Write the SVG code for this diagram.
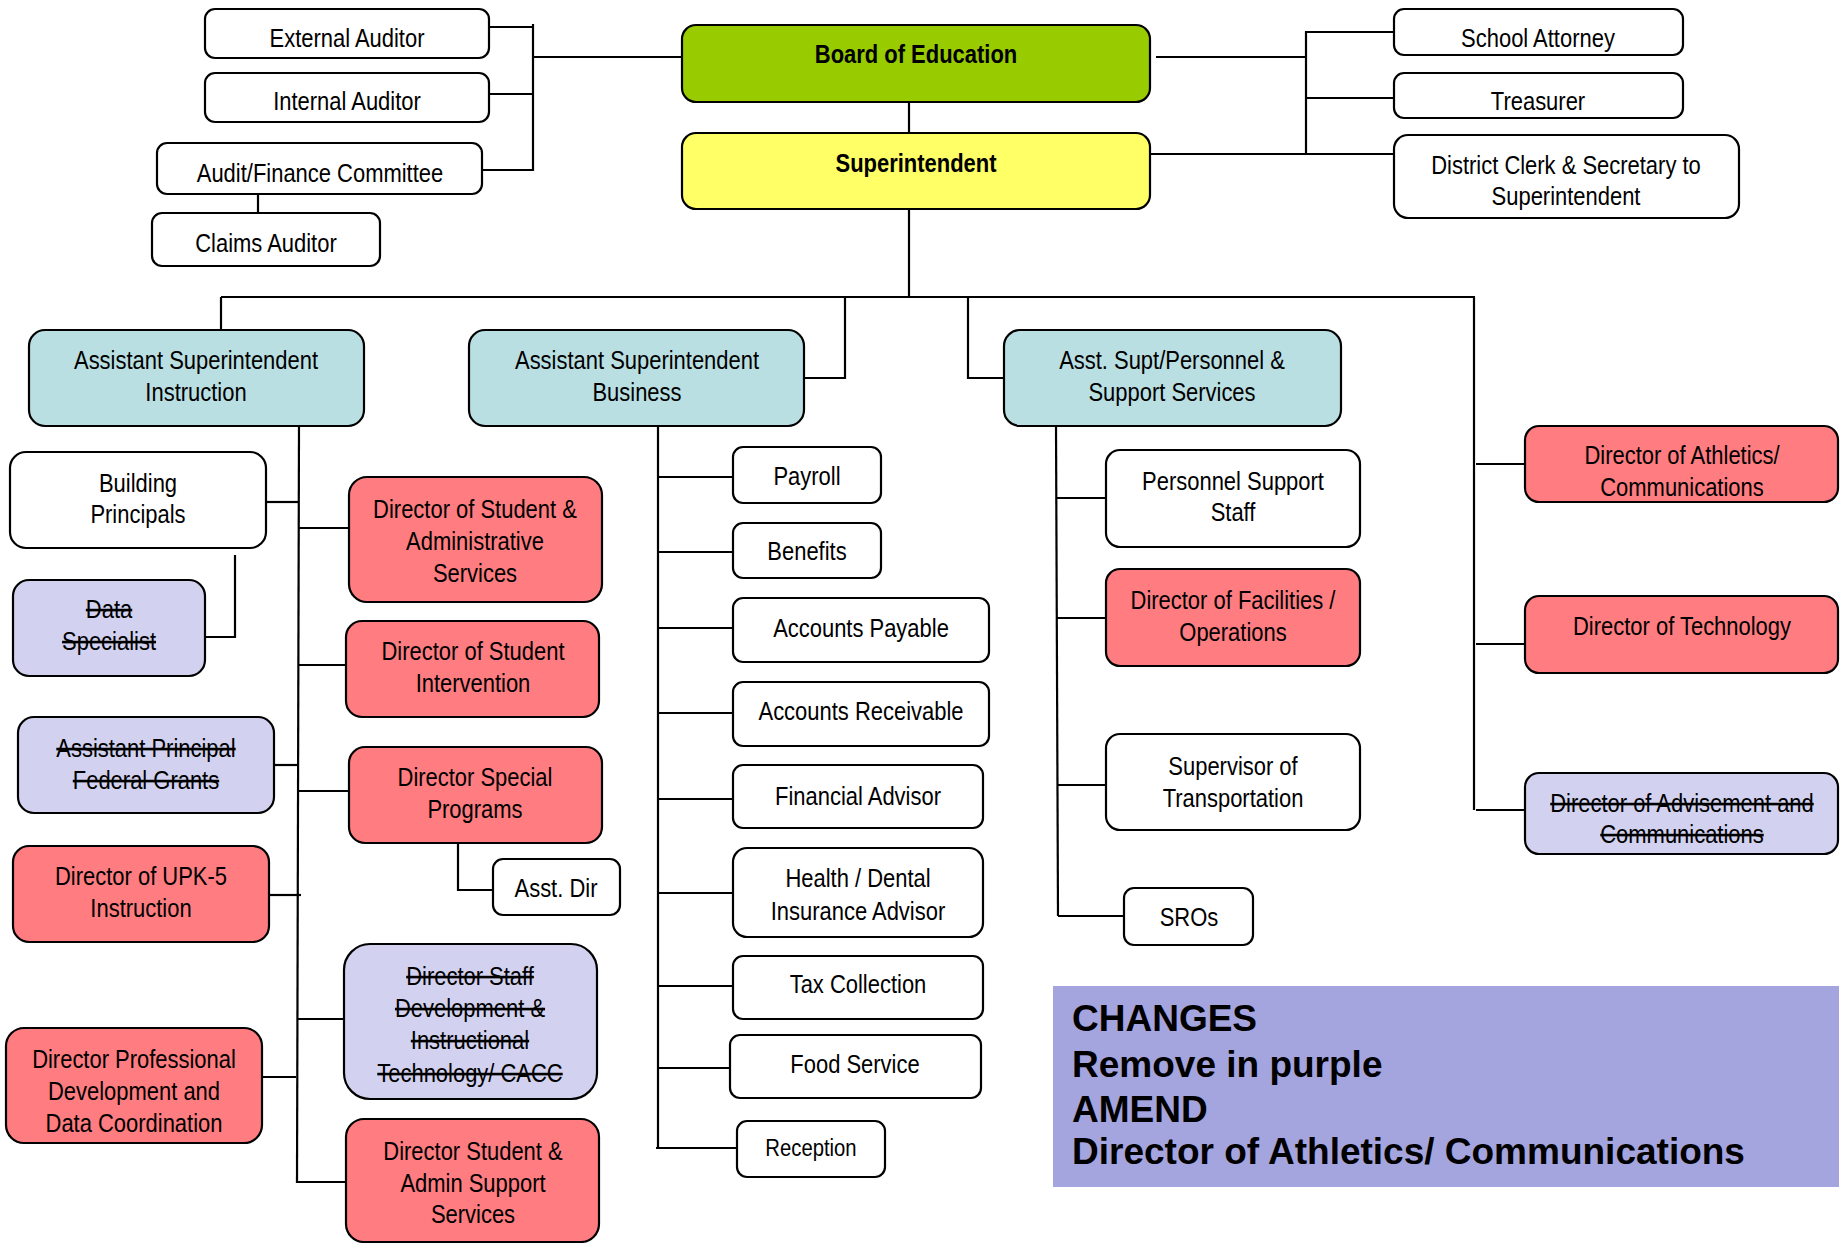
<svg xmlns="http://www.w3.org/2000/svg" width="1847" height="1243" viewBox="0 0 1847 1243">
<style>
.b{stroke:#000;stroke-width:2.2}
.w{fill:#fff}
.g{fill:#99CC00}
.y{fill:#FFFF66}
.t{fill:#B9DFE2}
.r{fill:#FF7C80}
.p{fill:#D2D2F0}
text{font-family:"Liberation Sans Narrow","Liberation Sans",Arial,sans-serif;font-size:26px;fill:#000;text-anchor:middle;transform-box:fill-box;transform-origin:center;transform:scaleX(0.845)}
.bd{font-weight:bold}
.s{text-decoration:line-through}
.sm{font-size:24px}
.ch{font-family:"Liberation Sans",Arial,sans-serif;font-weight:bold;font-size:37px;text-anchor:start;transform:none}
#connectors line,#connectors polyline{stroke:#000;stroke-width:2.2;fill:none}
</style>
<rect width="1847" height="1243" fill="#fff"/>
<g id="connectors">
<line x1="533" y1="24" x2="533" y2="171"/>
<line x1="489" y1="27" x2="533" y2="27"/>
<line x1="489" y1="94" x2="533" y2="94"/>
<line x1="482" y1="170" x2="533" y2="170"/>
<line x1="533" y1="57" x2="681" y2="57"/>
<line x1="258" y1="194" x2="258" y2="213"/>
<line x1="1156" y1="57" x2="1306" y2="57"/>
<line x1="1306" y1="31" x2="1306" y2="155"/>
<line x1="1306" y1="32" x2="1394" y2="32"/>
<line x1="1306" y1="98" x2="1394" y2="98"/>
<line x1="1150" y1="154" x2="1394" y2="154"/>
<line x1="909" y1="102" x2="909" y2="133"/>
<line x1="909" y1="209" x2="909" y2="297"/>
<line x1="221" y1="297" x2="1475" y2="297"/>
<line x1="221" y1="297" x2="221" y2="330"/>
<polyline points="845,297 845,378 804,378"/>
<polyline points="968,297 968,378 1004,378"/>
<line x1="1474" y1="297" x2="1474" y2="810"/>
<line x1="1476" y1="464" x2="1525" y2="464"/>
<line x1="1476" y1="644" x2="1525" y2="644"/>
<line x1="1476" y1="810" x2="1525" y2="810"/>
<line x1="299" y1="426" x2="297" y2="1183"/>
<line x1="266" y1="502" x2="298" y2="502"/>
<polyline points="235,555 235,637 205,637"/>
<line x1="299" y1="528" x2="349" y2="528"/>
<line x1="299" y1="665" x2="346" y2="665"/>
<line x1="274" y1="765" x2="298" y2="765"/>
<line x1="298" y1="791" x2="349" y2="791"/>
<polyline points="458,843 458,890 493,890"/>
<line x1="269" y1="895" x2="301" y2="895"/>
<line x1="298" y1="1019" x2="344" y2="1019"/>
<line x1="262" y1="1077" x2="296" y2="1077"/>
<line x1="298" y1="1182" x2="346" y2="1182"/>
<line x1="658" y1="426" x2="658" y2="1148"/>
<line x1="658" y1="477" x2="733" y2="477"/>
<line x1="658" y1="552" x2="733" y2="552"/>
<line x1="658" y1="628" x2="733" y2="628"/>
<line x1="658" y1="713" x2="733" y2="713"/>
<line x1="658" y1="799" x2="733" y2="799"/>
<line x1="658" y1="893" x2="733" y2="893"/>
<line x1="658" y1="986" x2="733" y2="986"/>
<line x1="658" y1="1068" x2="730" y2="1068"/>
<line x1="656" y1="1148" x2="737" y2="1148"/>
<line x1="1056" y1="426" x2="1058" y2="916"/>
<line x1="1057" y1="498" x2="1106" y2="498"/>
<line x1="1057" y1="618" x2="1106" y2="618"/>
<line x1="1058" y1="785" x2="1106" y2="785"/>
<line x1="1058" y1="916" x2="1124" y2="916"/>
</g>
<g id="external-auditor"><rect class="b w" x="205" y="9" width="284" height="49" rx="10"/><text x="347" y="47">External Auditor</text></g>
<g id="internal-auditor"><rect class="b w" x="205" y="73" width="284" height="49" rx="10"/><text x="347" y="110">Internal Auditor</text></g>
<g id="audit-finance"><rect class="b w" x="157" y="143" width="325" height="51" rx="10"/><text x="320" y="182">Audit/Finance Committee</text></g>
<g id="claims-auditor"><rect class="b w" x="152" y="213" width="228" height="53" rx="10"/><text x="266" y="252">Claims Auditor</text></g>
<g id="board"><rect class="b g" x="682" y="25" width="468" height="77" rx="14"/><text class="bd" x="916" y="63">Board of Education</text></g>
<g id="superintendent"><rect class="b y" x="682" y="133" width="468" height="76" rx="14"/><text class="bd" x="916" y="172">Superintendent</text></g>
<g id="school-attorney"><rect class="b w" x="1394" y="9" width="289" height="46" rx="10"/><text x="1538" y="47">School Attorney</text></g>
<g id="treasurer"><rect class="b w" x="1394" y="73" width="289" height="45" rx="10"/><text x="1538" y="110">Treasurer</text></g>
<g id="district-clerk"><rect class="b w" x="1394" y="135" width="345" height="83" rx="14"/><text x="1566" y="174">District Clerk &amp; Secretary to</text><text x="1566" y="205">Superintendent</text></g>
<g id="asst-instruction"><rect class="b t" x="29" y="330" width="335" height="96" rx="16"/><text x="196" y="369">Assistant Superintendent</text><text x="196" y="401">Instruction</text></g>
<g id="asst-business"><rect class="b t" x="469" y="330" width="335" height="96" rx="16"/><text x="637" y="369">Assistant Superintendent</text><text x="637" y="401">Business</text></g>
<g id="asst-personnel"><rect class="b t" x="1004" y="330" width="337" height="96" rx="16"/><text x="1172" y="369">Asst. Supt/Personnel &amp;</text><text x="1172" y="401">Support Services</text></g>
<g id="building-principals"><rect class="b w" x="10" y="452" width="256" height="96" rx="16"/><text x="138" y="492">Building</text><text x="138" y="523">Principals</text></g>
<g id="data-specialist"><rect class="b p" x="13" y="580" width="192" height="96" rx="16"/><text class="s" x="109" y="618">Data</text><text class="s" x="109" y="650">Specialist</text></g>
<g id="dir-student-admin"><rect class="b r" x="349" y="477" width="253" height="125" rx="18"/><text x="475" y="518">Director of Student &amp;</text><text x="475" y="550">Administrative</text><text x="475" y="582">Services</text></g>
<g id="dir-student-intervention"><rect class="b r" x="346" y="621" width="253" height="96" rx="16"/><text x="473" y="660">Director of Student</text><text x="473" y="692">Intervention</text></g>
<g id="asst-principal-fed"><rect class="b p" x="18" y="717" width="256" height="96" rx="16"/><text class="s" x="146" y="757">Assistant Principal</text><text class="s" x="146" y="789">Federal Grants</text></g>
<g id="dir-special-programs"><rect class="b r" x="349" y="747" width="253" height="96" rx="16"/><text x="475" y="786">Director Special</text><text x="475" y="818">Programs</text></g>
<g id="asst-dir"><rect class="b w" x="493" y="859" width="127" height="56" rx="10"/><text x="556" y="897">Asst. Dir</text></g>
<g id="dir-upk5"><rect class="b r" x="13" y="846" width="256" height="96" rx="16"/><text x="141" y="885">Director of UPK-5</text><text x="141" y="917">Instruction</text></g>
<g id="dir-staff-dev"><rect class="b p" x="344" y="944" width="253" height="155" rx="26"/><text class="s" x="470" y="985">Director Staff</text><text class="s" x="470" y="1017">Development &amp;</text><text class="s" x="470" y="1049">Instructional</text><text class="s" x="470" y="1082">Technology/ CACC</text></g>
<g id="dir-prof-dev"><rect class="b r" x="6" y="1028" width="256" height="115" rx="18"/><text x="134" y="1068">Director Professional</text><text x="134" y="1100">Development and</text><text x="134" y="1132">Data Coordination</text></g>
<g id="dir-student-admin-support"><rect class="b r" x="346" y="1119" width="253" height="123" rx="18"/><text x="473" y="1160">Director Student &amp;</text><text x="473" y="1192">Admin Support</text><text x="473" y="1223">Services</text></g>
<g id="payroll"><rect class="b w" x="733" y="447" width="148" height="56" rx="10"/><text x="807" y="485">Payroll</text></g>
<g id="benefits"><rect class="b w" x="733" y="523" width="148" height="55" rx="10"/><text x="807" y="560">Benefits</text></g>
<g id="accounts-payable"><rect class="b w" x="733" y="598" width="256" height="64" rx="10"/><text x="861" y="637">Accounts Payable</text></g>
<g id="accounts-receivable"><rect class="b w" x="733" y="682" width="256" height="64" rx="10"/><text x="861" y="720">Accounts Receivable</text></g>
<g id="financial-advisor"><rect class="b w" x="733" y="765" width="250" height="63" rx="10"/><text x="858" y="805">Financial Advisor</text></g>
<g id="health-dental"><rect class="b w" x="733" y="848" width="250" height="89" rx="14"/><text x="858" y="887">Health / Dental</text><text x="858" y="920">Insurance Advisor</text></g>
<g id="tax-collection"><rect class="b w" x="733" y="956" width="250" height="63" rx="10"/><text x="858" y="993">Tax Collection</text></g>
<g id="food-service"><rect class="b w" x="730" y="1035" width="251" height="63" rx="10"/><text x="855" y="1073">Food Service</text></g>
<g id="reception"><rect class="b w" x="737" y="1121" width="148" height="56" rx="10"/><text class="sm" x="811" y="1156">Reception</text></g>
<g id="personnel-support"><rect class="b w" x="1106" y="450" width="254" height="97" rx="14"/><text x="1233" y="490">Personnel Support</text><text x="1233" y="521">Staff</text></g>
<g id="dir-facilities"><rect class="b r" x="1106" y="569" width="254" height="97" rx="14"/><text x="1233" y="609">Director of Facilities /</text><text x="1233" y="641">Operations</text></g>
<g id="supervisor-transportation"><rect class="b w" x="1106" y="734" width="254" height="96" rx="14"/><text x="1233" y="775">Supervisor of</text><text x="1233" y="807">Transportation</text></g>
<g id="sros"><rect class="b w" x="1124" y="888" width="129" height="57" rx="10"/><text x="1189" y="926">SROs</text></g>
<g id="dir-athletics"><rect class="b r" x="1525" y="426" width="313" height="76" rx="14"/><text x="1682" y="464">Director of Athletics/</text><text x="1682" y="496">Communications</text></g>
<g id="dir-technology"><rect class="b r" x="1525" y="596" width="313" height="77" rx="14"/><text x="1682" y="635">Director of Technology</text></g>
<g id="dir-advisement"><rect class="b p" x="1525" y="773" width="313" height="81" rx="14"/><text class="s" x="1682" y="812">Director of Advisement and</text><text class="s" x="1682" y="843">Communications</text></g>
<g id="changes-note"><rect x="1053" y="986" width="786" height="201" fill="#A4A4DF"/><text class="ch" x="1072" y="1031">CHANGES</text><text class="ch" x="1072" y="1077">Remove in purple</text><text class="ch" x="1072" y="1122">AMEND</text><text class="ch" x="1072" y="1164">Director of Athletics/ Communications</text></g>
</svg>
